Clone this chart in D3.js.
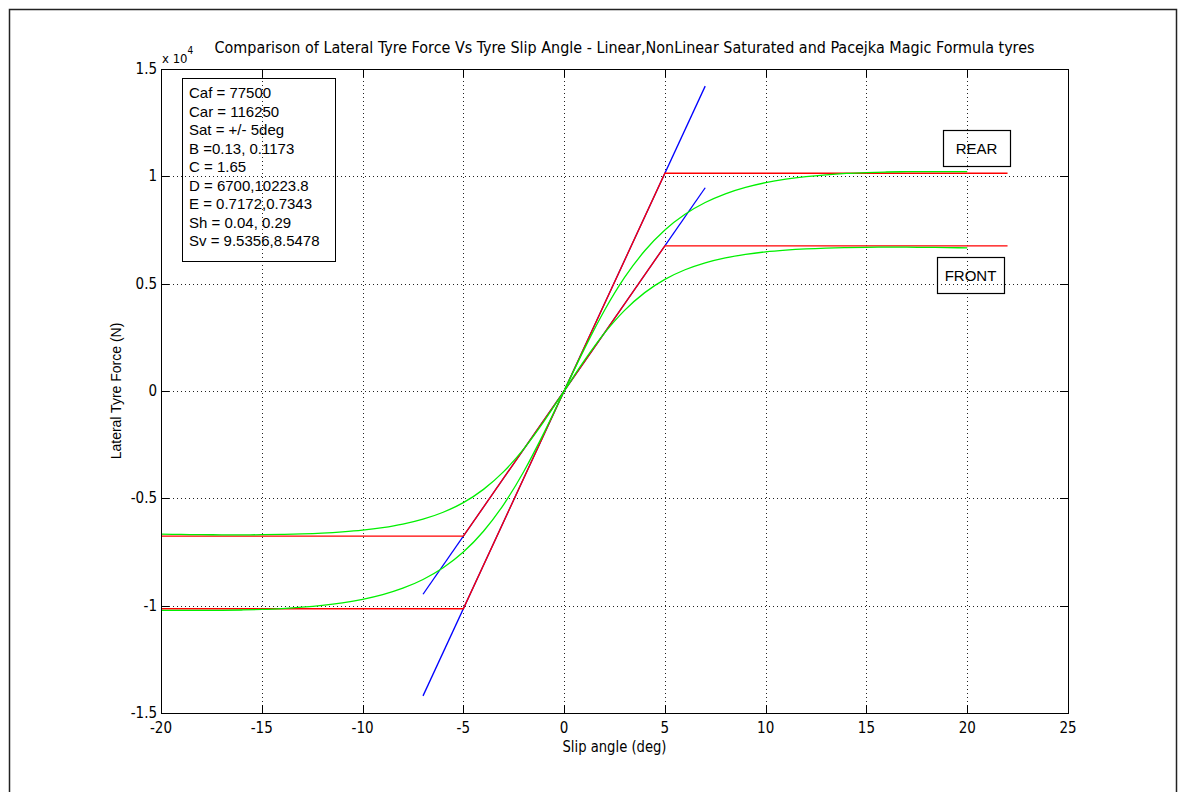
<!DOCTYPE html>
<html>
<head>
<meta charset="utf-8">
<script src="https://cdn.jsdelivr.net/npm/d3@7"></script>
<style>
  body { margin: 0; background: #fff; }
  text { fill: #000; }
  .narrow { font-family: "Liberation Sans Narrow", "Arial Narrow", "DejaVu Sans Condensed", sans-serif; }
  .normal { font-family: "Liberation Sans", Arial, sans-serif; }
</style>
</head>
<body>
<svg id="chart"></svg>
<script>
// slip angle samples (deg) for the Pacejka curves
const slipAngleDeg = [-20, -19, -18, -17, -16, -15, -14, -13, -12, -11, -10, -9, -8, -7, -6, -5, -4, -3, -2, -1,
  0, 1, 2, 3, 4, 5, 6, 7, 8, 9, 10, 11, 12, 13, 14, 15, 16, 17, 18, 19, 20];

// Pacejka magic formula, lateral force (N)
const frontPacejka = [-6667, -6681, -6692, -6698, -6700, -6695, -6683, -6659, -6621, -6564, -6484, -6366, -6202, -5971, -5648, -5200, -4582, -3755, -2692, -1413,
  0, 1413, 2692, 3755, 4582, 5200, 5648, 5971, 6202, 6366, 6484, 6564, 6621, 6659, 6683, 6695, 6700, 6698, 6692, 6681, 6667];
const rearPacejka = [-10215, -10222, -10223, -10217, -10202, -10175, -10134, -10072, -9986, -9866, -9704, -9485, -9187, -8779, -8234, -7503, -6533, -5288, -3749, -1951,
  0, 1951, 3749, 5288, 6533, 7503, 8234, 8779, 9187, 9485, 9704, 9866, 9986, 10072, 10134, 10175, 10202, 10217, 10223, 10222, 10215];

// linear tyre (blue)
const linearAngle = [-7, 7];
const frontLinear = [-9468, 9468];
const rearLinear = [-14202, 14202];

// linear saturated at +/- 5 deg (red)
const satAngle = [-22, -5, 5, 22];
const frontSaturated = [-6763, -6763, 6763, 6763];
const rearSaturated = [-10144, -10144, 10144, 10144];

const xTicks = [-20, -15, -10, -5, 0, 5, 10, 15, 20, 25];
const yTicks = [-15000, -10000, -5000, 0, 5000, 10000, 15000];
const yTickLabels = ["-1.5", "-1", "-0.5", "0", "0.5", "1", "1.5"];

const infoLines = ["Caf = 77500", "Car = 116250", "Sat = +/- 5deg", "B =0.13, 0.1173", "C = 1.65",
  "D = 6700,10223.8", "E = 0.7172,0.7343", "Sh = 0.04, 0.29", "Sv = 9.5356,8.5478"];

const W = 1184, H = 792;
const plot = { left: 161, right: 1068, top: 69, bottom: 713 };

const svg = d3.select("#chart").attr("width", W).attr("height", H);

// figure frame
svg.append("rect")
  .attr("x", 9.5).attr("y", 9.5)
  .attr("width", 1167).attr("height", 800)
  .attr("fill", "none").attr("stroke", "#222").attr("stroke-width", 1.5);

const x = d3.scaleLinear().domain([-20, 25]).range([plot.left, plot.right]);
const y = d3.scaleLinear().domain([-15000, 15000]).range([plot.bottom, plot.top]);

svg.append("clipPath").attr("id", "clip")
  .append("rect")
  .attr("x", plot.left).attr("y", plot.top)
  .attr("width", plot.right - plot.left).attr("height", plot.bottom - plot.top);

// grid
const grid = svg.append("g").attr("stroke", "#222").attr("stroke-width", 1).attr("stroke-dasharray", "1,3");
grid.selectAll("line.gx").data(xTicks.slice(1, -1)).enter().append("line")
  .attr("x1", d => Math.round(x(d)) + 0.5).attr("x2", d => Math.round(x(d)) + 0.5)
  .attr("y1", plot.top).attr("y2", plot.bottom);
grid.selectAll("line.gy").data(yTicks.slice(1, -1)).enter().append("line")
  .attr("y1", d => Math.round(y(d)) + 0.5).attr("y2", d => Math.round(y(d)) + 0.5)
  .attr("x1", plot.left).attr("x2", plot.right);

// curves
const lines = svg.append("g").attr("clip-path", "url(#clip)").attr("fill", "none").attr("stroke-width", 1.3);
const straight = d3.line().x(d => x(d[0])).y(d => y(d[1]));
const smooth = d3.line().x(d => x(d[0])).y(d => y(d[1])).curve(d3.curveMonotoneX);

[frontLinear, rearLinear].forEach(s => {
  lines.append("path").attr("stroke", "#0000ff")
    .attr("d", straight(linearAngle.map((a, i) => [a, s[i]])));
});
[frontSaturated, rearSaturated].forEach(s => {
  lines.append("path").attr("stroke", "#ff0000")
    .attr("d", straight(satAngle.map((a, i) => [a, s[i]])));
});
[frontPacejka, rearPacejka].forEach(s => {
  lines.append("path").attr("stroke", "#00f000")
    .attr("d", smooth(slipAngleDeg.map((a, i) => [a, s[i]])));
});

// axes box with inward ticks on all sides
const tickLen = 8;
const axes = svg.append("g").attr("stroke", "#000").attr("stroke-width", 1);
axes.append("rect")
  .attr("x", plot.left + 0.5).attr("y", plot.top + 0.5)
  .attr("width", plot.right - plot.left).attr("height", plot.bottom - plot.top)
  .attr("fill", "none");
xTicks.forEach(t => {
  const px = Math.round(x(t)) + 0.5;
  axes.append("line").attr("x1", px).attr("x2", px).attr("y1", plot.bottom).attr("y2", plot.bottom - tickLen);
  axes.append("line").attr("x1", px).attr("x2", px).attr("y1", plot.top).attr("y2", plot.top + tickLen);
});
yTicks.forEach(t => {
  const py = Math.round(y(t)) + 0.5;
  axes.append("line").attr("y1", py).attr("y2", py).attr("x1", plot.left).attr("x2", plot.left + tickLen);
  axes.append("line").attr("y1", py).attr("y2", py).attr("x1", plot.right).attr("x2", plot.right - tickLen);
});

// tick labels
svg.append("g").attr("class", "narrow").attr("font-size", 15).attr("text-anchor", "middle")
  .selectAll("text").data(xTicks).enter().append("text")
  .attr("x", d => x(d)).attr("y", plot.bottom + 20)
  .text(d => d);
svg.append("g").attr("class", "narrow").attr("font-size", 15).attr("text-anchor", "end")
  .selectAll("text").data(yTicks).enter().append("text")
  .attr("x", plot.left - 4).attr("y", d => y(d) + 5)
  .text((d, i) => yTickLabels[i]);

// exponent
const expo = svg.append("text").attr("class", "narrow").attr("font-size", 13)
  .attr("x", plot.left + 1).attr("y", plot.top - 6);
expo.append("tspan").text("x 10");
expo.append("tspan").attr("dy", -9).attr("font-size", 10).text("4");

// title and axis labels
svg.append("text").attr("class", "narrow").attr("font-size", 15)
  .attr("text-anchor", "middle")
  .attr("x", (plot.left + plot.right) / 2 + 10).attr("y", 53)
  .attr("textLength", 820).attr("lengthAdjust", "spacingAndGlyphs")
  .text("Comparison of Lateral Tyre Force Vs Tyre Slip Angle - Linear,NonLinear Saturated and Pacejka Magic Formula tyres");

svg.append("text").attr("class", "narrow").attr("font-size", 16)
  .attr("text-anchor", "middle")
  .attr("x", (plot.left + plot.right) / 2).attr("y", 752)
  .attr("textLength", 104).attr("lengthAdjust", "spacingAndGlyphs")
  .text("Slip angle (deg)");

svg.append("text").attr("class", "normal").attr("font-size", 14)
  .attr("text-anchor", "middle")
  .attr("transform", "translate(121," + (plot.top + plot.bottom) / 2 + ") rotate(-90)")
  .text("Lateral Tyre Force (N)");

// parameter box
const info = svg.append("g").attr("class", "normal").attr("font-size", 15);
info.append("rect").attr("x", 182.5).attr("y", 78.5).attr("width", 153).attr("height", 183)
  .attr("fill", "none").attr("stroke", "#000").attr("stroke-width", 1);
info.selectAll("text").data(infoLines).enter().append("text")
  .attr("x", 189).attr("y", (d, i) => 98 + i * 18.5)
  .text(d => d);

// REAR / FRONT labels
function labelBox(txt, bx, by, bw, bh) {
  const g = svg.append("g").attr("class", "normal").attr("font-size", 15);
  g.append("rect").attr("x", bx + 0.5).attr("y", by + 0.5).attr("width", bw).attr("height", bh)
    .attr("fill", "none").attr("stroke", "#000").attr("stroke-width", 1.2);
  g.append("text").attr("x", bx + bw / 2).attr("y", by + bh / 2 + 5.5)
    .attr("text-anchor", "middle").text(txt);
}
labelBox("REAR", 943, 130, 67, 36);
labelBox("FRONT", 937, 257, 67, 36);
</script>
</body>
</html>
